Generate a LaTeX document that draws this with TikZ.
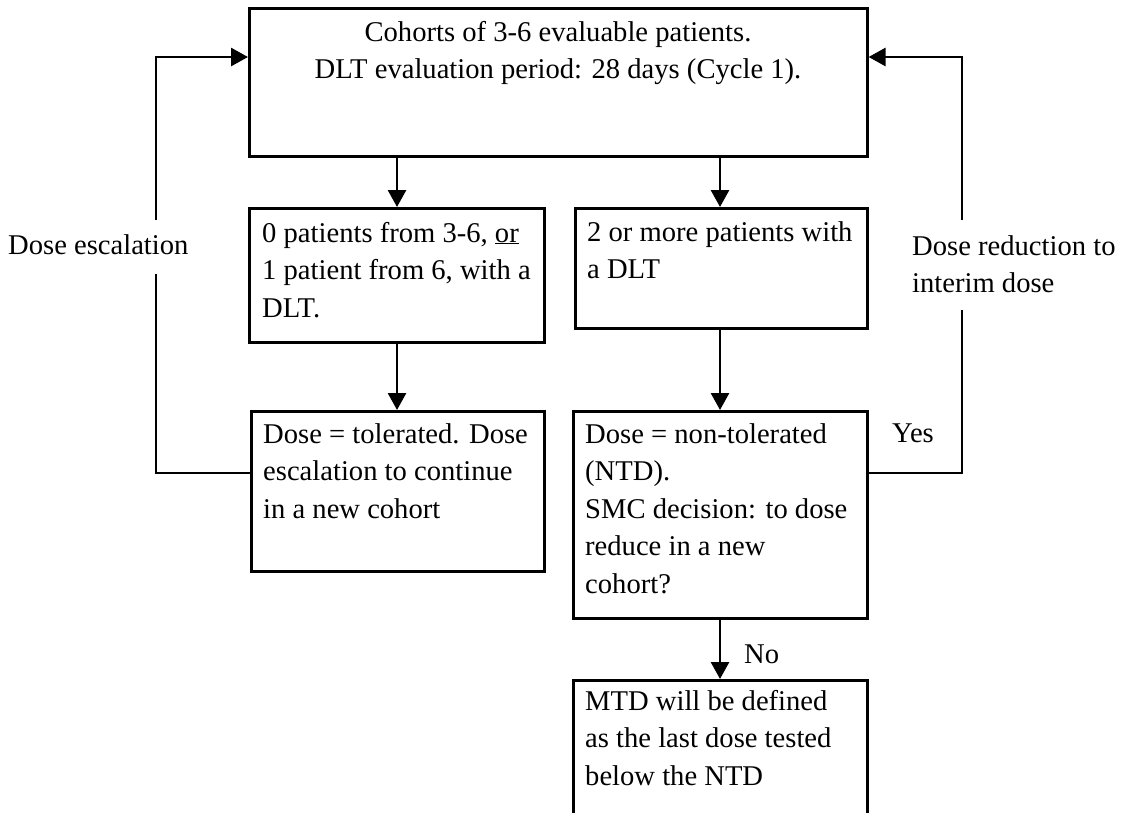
\documentclass[tikz,border=0pt]{standalone}
\usepackage{fontspec}
\setmainfont{Liberation Serif}
\usetikzlibrary{arrows.meta}
\begin{document}
\begin{tikzpicture}[x=1pt,y=-1pt,
  box/.style={draw, line width=2.6pt, rectangle, inner sep=0pt, anchor=north west},
  txt/.style={anchor=base west, inner sep=0pt, font=\fontsize{28.6}{37.5}\selectfont},
  conn/.style={line width=2.8pt, -{Triangle[width=18pt,length=17pt]}},
  plain/.style={line width=2.5pt}]
\useasboundingbox (0,0) rectangle (1121,812);
% boxes
\node[box, minimum width=618pt, minimum height=148pt] (T) at (248,7) {};
\node[box, minimum width=295pt, minimum height=134pt] (B1) at (248,207) {};
\node[box, minimum width=292pt, minimum height=120pt] (B2) at (574,207) {};
\node[box, minimum width=293pt, minimum height=160pt] (C1) at (250,410) {};
\node[box, minimum width=294pt, minimum height=207pt] (C2) at (572,410) {};
\node[box, minimum width=294pt, minimum height=150pt] (D) at (572,679) {};
% texts
\node[txt, anchor=base] (Tt) at (558,41) {\parbox[t]{610pt}{\centering Cohorts of 3-6 evaluable patients.\\DLT evaluation period: 28 days (Cycle 1).}};
\node[txt] (B1t) at (262,242) {\parbox[t]{280pt}{0 patients from 3-6, \underline{or}\\1 patient from 6, with a\\DLT.}};
\node[txt] (B2t) at (587,241) {\parbox[t]{280pt}{2 or more patients with\\a DLT}};
\node[txt] (C1t) at (263,443) {\parbox[t]{280pt}{Dose = tolerated. Dose\\escalation to continue\\in a new cohort}};
\node[txt] (C2t) at (585,443) {\parbox[t]{280pt}{Dose = non-tolerated\\(NTD).\\SMC decision: to dose\\reduce in a new\\cohort?}};
\node[txt] (Dt) at (585,710) {\parbox[t]{280pt}{MTD will be defined\\as the last dose tested\\below the NTD}};
% labels
\node[txt] (esc) at (8,254) {Dose escalation};
\node[txt] (red) at (912,255) {\parbox[t]{220pt}{Dose reduction to\\interim dose}};
\node[txt] (yes) at (892,442) {Yes};
\node[txt] (no) at (744,663) {No};
% coordinates
\coordinate (xl) at (397,0);
\coordinate (xr) at (720,0);
\coordinate (e1) at (156,473);
\coordinate (e2) at (156,274);
\coordinate (e3) at (156,220);
\coordinate (e4) at (156,57);
\coordinate (r1) at (962,473);
\coordinate (r2) at (962,310);
\coordinate (r3) at (962,220);
\coordinate (r4) at (962,57);
% connectors
\draw[conn] (T.south -| xl) -- (B1.north -| xl);
\draw[conn] (T.south -| xr) -- (B2.north -| xr);
\draw[conn] (B1.south -| xl) -- (C1.north -| xl);
\draw[conn] (B2.south -| xr) -- (C2.north -| xr);
\draw[conn] (C2.south -| xr) -- (D.north -| xr);
\draw[plain] (C1.west |- e1) -- (e1) -- (e2);
\draw[conn] (e3) -- (e4) -- (T.west |- e4);
\draw[plain] (C2.east |- r1) -- (r1) -- (r2);
\draw[conn] (r3) -- (r4) -- (T.east |- r4);
\end{tikzpicture}
\end{document}
